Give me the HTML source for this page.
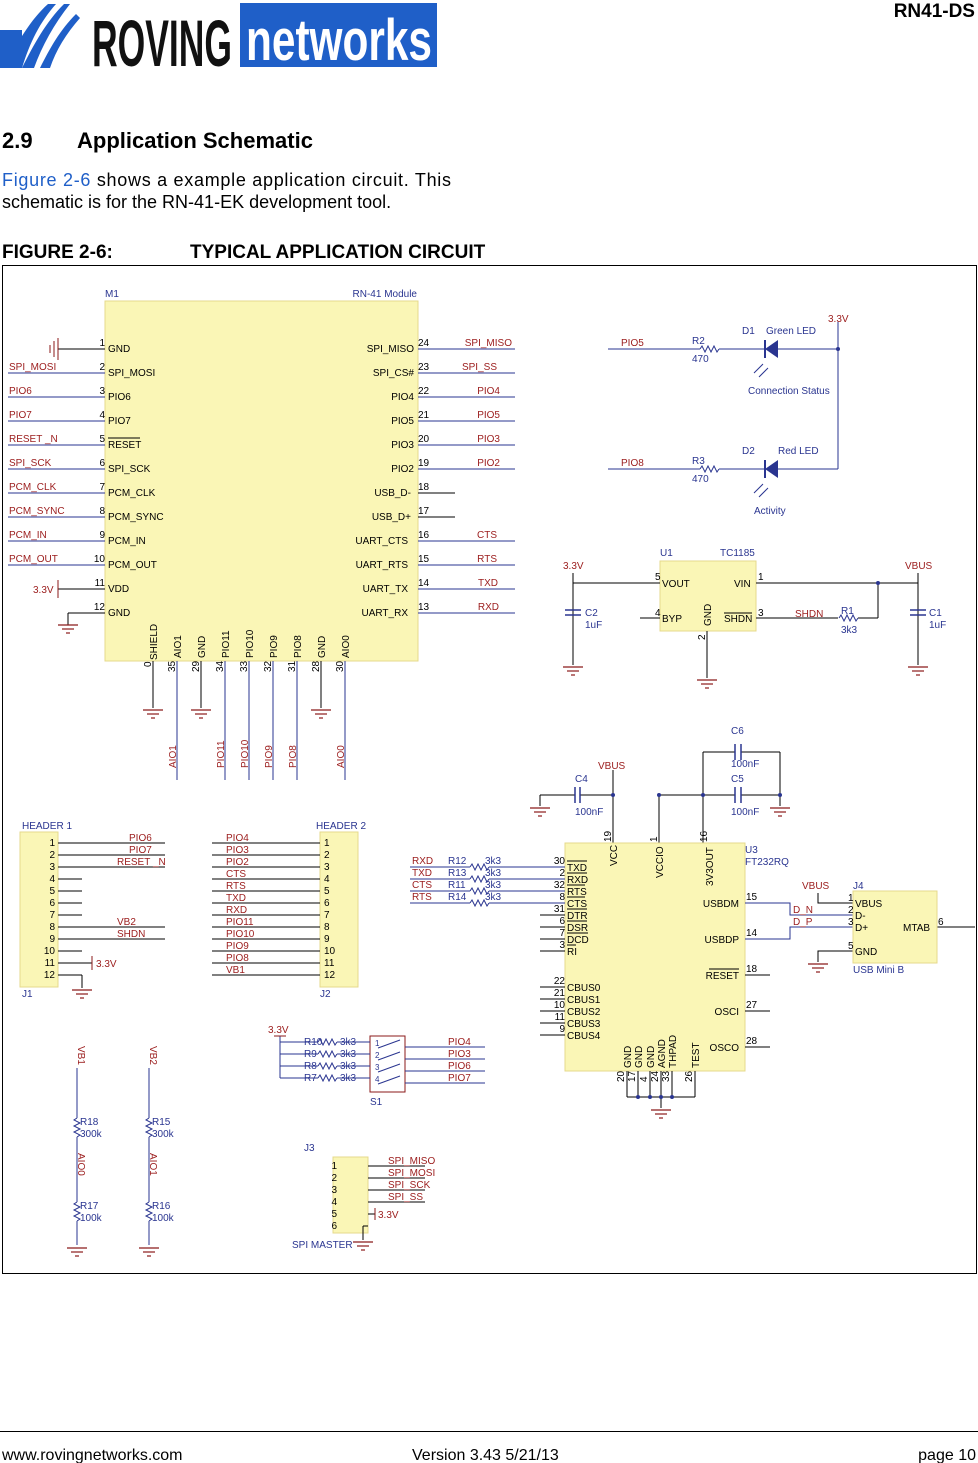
<!DOCTYPE html>
<html><head><meta charset="utf-8"><style>
body{margin:0;background:#fff;width:978px;height:1463px;overflow:hidden;font-family:"Liberation Sans",sans-serif}
.a{position:absolute;white-space:nowrap}
</style></head><body>
<div class="a" style="left:0;top:0;width:978px;height:1463px">
<svg width="978" height="1463" viewBox="0 0 978 1463" xmlns="http://www.w3.org/2000/svg" style="position:absolute;left:0;top:0;font-family:'Liberation Sans',sans-serif">
<defs>
<g id="gnd" stroke="#8b1a1a" stroke-width="1.2"><line x1="-10" y1="0" x2="10" y2="0"/><line x1="-6" y1="4" x2="6" y2="4"/><line x1="-2" y1="8" x2="2" y2="8"/></g>
<polyline id="rh" points="0,0 2,-3 5,3 8,-3 11,3 14,-3 17,3 19,0" fill="none" stroke="#2a3590" stroke-width="1"/>
<polyline id="rv" points="0,0 -3,2 3,5 -3,8 3,11 -3,14 3,17 0,19" fill="none" stroke="#2a3590" stroke-width="1"/>
</defs>
<!-- logo -->
<path d="M2,68 C20,40 30,20 48,4 L56,4 C40,22 30,42 22,68 Z" fill="#1f5fc8"/>
<path d="M22,68 C34,44 46,22 64,4 L70,4 C54,24 42,46 34,68 Z" fill="#1f5fc8"/>
<path d="M40,68 C50,48 60,30 76,14 L80,18 C66,34 56,50 50,68 Z" fill="#1f5fc8"/>
<rect x="0" y="30" width="22" height="38" fill="#1f5fc8"/>
<text x="92" y="66" font-size="66" font-weight="bold" fill="#111" textLength="140" lengthAdjust="spacingAndGlyphs">ROVING</text>
<rect x="240" y="3" width="197" height="64" fill="#1f5fc8"/>
<text x="246" y="60" font-size="58" font-weight="bold" fill="#fff" textLength="186" lengthAdjust="spacingAndGlyphs">networks</text>
<text x="975" y="17" font-size="19" font-weight="bold" text-anchor="end">RN41-DS</text>
<text x="2" y="148" font-size="22" font-weight="bold">2.9</text>
<text x="77" y="148" font-size="22" font-weight="bold">Application Schematic</text>
<text x="2" y="186" font-size="18" textLength="449" lengthAdjust="spacing"><tspan fill="#1f5fc8">Figure 2-6</tspan> shows a example application circuit. This</text>
<text x="2" y="208" font-size="18">schematic is for the RN-41-EK development tool.</text>
<text x="2" y="258" font-size="19" font-weight="bold">FIGURE 2-6:</text>
<text x="190" y="258" font-size="19" font-weight="bold">TYPICAL APPLICATION CIRCUIT</text>
<rect x="2.5" y="265.5" width="974" height="1008" fill="none" stroke="#000"/>
<line x1="0" y1="1431.5" x2="978" y2="1431.5" stroke="#000"/>
<text x="2" y="1460" font-size="16">www.rovingnetworks.com</text>
<text x="412" y="1460" font-size="16">Version 3.43 5/21/13</text>
<text x="976" y="1460" font-size="16" text-anchor="end">page 10</text>

<g font-size="10">
<!-- M1 -->
<rect x="105" y="301" width="313" height="360" fill="#faf6b6" stroke="#e6d98c"/>
<text x="105" y="297" fill="#2a3590">M1</text><text x="417" y="297" fill="#2a3590" text-anchor="end">RN-41 Module</text>
<g stroke="#2a3590" stroke-width="1">
<line x1="8" y1="373" x2="105" y2="373"/><line x1="8" y1="397" x2="105" y2="397"/><line x1="8" y1="421" x2="105" y2="421"/><line x1="8" y1="445" x2="105" y2="445"/><line x1="8" y1="469" x2="105" y2="469"/><line x1="8" y1="493" x2="105" y2="493"/><line x1="8" y1="517" x2="105" y2="517"/><line x1="8" y1="541" x2="105" y2="541"/><line x1="8" y1="565" x2="105" y2="565"/>
<line x1="418" y1="349" x2="515" y2="349"/><line x1="418" y1="373" x2="515" y2="373"/><line x1="418" y1="397" x2="515" y2="397"/><line x1="418" y1="421" x2="515" y2="421"/><line x1="418" y1="445" x2="515" y2="445"/><line x1="418" y1="469" x2="515" y2="469"/><line x1="418" y1="541" x2="515" y2="541"/><line x1="418" y1="565" x2="515" y2="565"/><line x1="418" y1="589" x2="515" y2="589"/><line x1="418" y1="613" x2="515" y2="613"/>
<line x1="177" y1="661" x2="177" y2="780"/><line x1="225" y1="661" x2="225" y2="780"/><line x1="249" y1="661" x2="249" y2="780"/><line x1="273" y1="661" x2="273" y2="780"/><line x1="297" y1="661" x2="297" y2="780"/><line x1="345" y1="661" x2="345" y2="780"/>
</g>
<g stroke="#000"><line x1="58" y1="349" x2="105" y2="349"/><line x1="58" y1="589" x2="105" y2="589"/><line x1="68" y1="613" x2="105" y2="613"/><line x1="68" y1="613" x2="68" y2="625"/><line x1="418" y1="493" x2="455" y2="493"/><line x1="418" y1="517" x2="455" y2="517"/>
<line x1="153" y1="661" x2="153" y2="708"/><line x1="201" y1="661" x2="201" y2="708"/><line x1="321" y1="661" x2="321" y2="708"/></g>
<g stroke="#8b1a1a"><line x1="58" y1="338" x2="58" y2="360"/><line x1="54" y1="341" x2="54" y2="357"/><line x1="50" y1="345" x2="50" y2="353"/><line x1="58" y1="580" x2="58" y2="598"/></g>
<use href="#gnd" x="68" y="625"/><use href="#gnd" x="153" y="710"/><use href="#gnd" x="201" y="710"/><use href="#gnd" x="321" y="710"/>
<g fill="#000">
<text x="108" y="352">GND</text><text x="108" y="376">SPI_MOSI</text><text x="108" y="400">PIO6</text><text x="108" y="424">PIO7</text><text x="108" y="448">RESET</text><text x="108" y="472">SPI_SCK</text><text x="108" y="496">PCM_CLK</text><text x="108" y="520">PCM_SYNC</text><text x="108" y="544">PCM_IN</text><text x="108" y="568">PCM_OUT</text><text x="108" y="592">VDD</text><text x="108" y="616">GND</text>
<text x="105" y="346" text-anchor="end">1</text><text x="105" y="370" text-anchor="end">2</text><text x="105" y="394" text-anchor="end">3</text><text x="105" y="418" text-anchor="end">4</text><text x="105" y="442" text-anchor="end">5</text><text x="105" y="466" text-anchor="end">6</text><text x="105" y="490" text-anchor="end">7</text><text x="105" y="514" text-anchor="end">8</text><text x="105" y="538" text-anchor="end">9</text><text x="105" y="562" text-anchor="end">10</text><text x="105" y="586" text-anchor="end">11</text><text x="105" y="610" text-anchor="end">12</text>
<g text-anchor="end"><text x="414" y="352">SPI_MISO</text><text x="414" y="376">SPI_CS#</text><text x="414" y="400">PIO4</text><text x="414" y="424">PIO5</text><text x="414" y="448">PIO3</text><text x="414" y="472">PIO2</text><text x="411" y="496">USB_D-</text><text x="411" y="520">USB_D+</text><text x="408" y="544">UART_CTS</text><text x="408" y="568">UART_RTS</text><text x="408" y="592">UART_TX</text><text x="408" y="616">UART_RX</text></g>
<text x="418" y="346">24</text><text x="418" y="370">23</text><text x="418" y="394">22</text><text x="418" y="418">21</text><text x="418" y="442">20</text><text x="418" y="466">19</text><text x="418" y="490">18</text><text x="418" y="514">17</text><text x="418" y="538">16</text><text x="418" y="562">15</text><text x="418" y="586">14</text><text x="418" y="610">13</text>
</g>
<line x1="108" y1="438" x2="140" y2="438" stroke="#000"/>
<g fill="#000">
<text transform="translate(157,660) rotate(-90)">SHIELD</text><text transform="translate(181,658) rotate(-90)">AIO1</text><text transform="translate(205,658) rotate(-90)">GND</text><text transform="translate(229,658) rotate(-90)">PIO11</text><text transform="translate(253,658) rotate(-90)">PIO10</text><text transform="translate(277,658) rotate(-90)">PIO9</text><text transform="translate(301,658) rotate(-90)">PIO8</text><text transform="translate(325,658) rotate(-90)">GND</text><text transform="translate(349,658) rotate(-90)">AIO0</text>
<text transform="translate(151,667) rotate(-90)">0</text><text transform="translate(175,672) rotate(-90)">35</text><text transform="translate(199,672) rotate(-90)">29</text><text transform="translate(223,672) rotate(-90)">34</text><text transform="translate(247,672) rotate(-90)">33</text><text transform="translate(271,672) rotate(-90)">32</text><text transform="translate(295,672) rotate(-90)">31</text><text transform="translate(319,672) rotate(-90)">28</text><text transform="translate(343,672) rotate(-90)">30</text>
</g>
<g fill="#9b1c1c">
<text x="9" y="370">SPI_MOSI</text><text x="9" y="394">PIO6</text><text x="9" y="418">PIO7</text><text x="9" y="442">RESET _N</text><text x="9" y="466">SPI_SCK</text><text x="9" y="490">PCM_CLK</text><text x="9" y="514">PCM_SYNC</text><text x="9" y="538">PCM_IN</text><text x="9" y="562">PCM_OUT</text><text x="33" y="593">3.3V</text>
<g text-anchor="end"><text x="512" y="346">SPI_MISO</text><text x="497" y="370">SPI_SS</text><text x="500" y="394">PIO4</text><text x="500" y="418">PIO5</text><text x="500" y="442">PIO3</text><text x="500" y="466">PIO2</text><text x="497" y="538">CTS</text><text x="497" y="562">RTS</text><text x="498" y="586">TXD</text><text x="499" y="610">RXD</text></g>
<text transform="translate(176,768) rotate(-90)">AIO1</text><text transform="translate(224,768) rotate(-90)">PIO11</text><text transform="translate(248,768) rotate(-90)">PIO10</text><text transform="translate(272,768) rotate(-90)">PIO9</text><text transform="translate(296,768) rotate(-90)">PIO8</text><text transform="translate(344,768) rotate(-90)">AIO0</text>
</g>

<!-- LEDs -->
<g stroke="#2a3590" fill="none"><line x1="608" y1="349" x2="700" y2="349"/><line x1="719" y1="349" x2="838" y2="349"/><line x1="608" y1="469" x2="700" y2="469"/><line x1="719" y1="469" x2="838" y2="469"/><line x1="838" y1="322" x2="838" y2="469"/></g>
<use href="#rh" x="700" y="349"/><use href="#rh" x="700" y="469"/>
<circle cx="838" cy="349" r="2" fill="#2a3590"/>
<polygon points="765,349 778,340 778,358" fill="#2a3590"/><line x1="765" y1="340" x2="765" y2="358" stroke="#2a3590" stroke-width="2"/>
<polygon points="765,469 778,460 778,478" fill="#2a3590"/><line x1="765" y1="460" x2="765" y2="478" stroke="#2a3590" stroke-width="2"/>
<g stroke="#2a3590"><line x1="763" y1="364" x2="754" y2="373"/><line x1="768" y1="368" x2="759" y2="377"/><line x1="763" y1="484" x2="754" y2="493"/><line x1="768" y1="488" x2="759" y2="497"/></g>
<g fill="#2a3590"><text x="692" y="344">R2</text><text x="692" y="362">470</text><text x="692" y="464">R3</text><text x="692" y="482">470</text><text x="742" y="334">D1</text><text x="766" y="334">Green LED</text><text x="748" y="394">Connection Status</text><text x="742" y="454">D2</text><text x="778" y="454">Red LED</text><text x="754" y="514">Activity</text></g>
<g fill="#9b1c1c"><text x="621" y="346">PIO5</text><text x="621" y="466">PIO8</text><text x="828" y="322">3.3V</text></g>

<!-- U1 -->
<rect x="660" y="561" width="96" height="70" fill="#faf6b6" stroke="#e6d98c"/>
<g stroke="#000"><line x1="573" y1="583" x2="660" y2="583"/><line x1="573" y1="573" x2="573" y2="665"/><line x1="640" y1="618" x2="660" y2="618"/><line x1="756" y1="583" x2="918" y2="583"/><line x1="918" y1="573" x2="918" y2="665"/><line x1="707" y1="631" x2="707" y2="678"/><line x1="756" y1="618" x2="838" y2="618"/><line x1="858" y1="618" x2="878" y2="618"/><line x1="878" y1="583" x2="878" y2="618"/></g>
<g stroke="#2a3590" stroke-width="1.5"><line x1="565" y1="610" x2="581" y2="610"/><line x1="565" y1="615" x2="581" y2="615"/><line x1="910" y1="610" x2="926" y2="610"/><line x1="910" y1="615" x2="926" y2="615"/></g>
<use href="#rh" x="839" y="618"/>
<circle cx="878" cy="583" r="2" fill="#2a3590"/>
<use href="#gnd" x="573" y="667"/><use href="#gnd" x="918" y="667"/><use href="#gnd" x="707" y="680"/>
<g fill="#000"><text x="662" y="587">VOUT</text><text x="662" y="622">BYP</text><text x="734" y="587">VIN</text><text x="724" y="622">SHDN</text><text x="655" y="580">5</text><text x="655" y="616">4</text><text x="758" y="580">1</text><text x="758" y="616">3</text><text transform="translate(711,626) rotate(-90)">GND</text><text transform="translate(705,640) rotate(-90)">2</text></g>
<line x1="724" y1="613" x2="752" y2="613" stroke="#000"/>
<g fill="#2a3590"><text x="660" y="556">U1</text><text x="720" y="556">TC1185</text><text x="585" y="616">C2</text><text x="585" y="628">1uF</text><text x="929" y="616">C1</text><text x="929" y="628">1uF</text><text x="841" y="614">R1</text><text x="841" y="633">3k3</text></g>
<g fill="#9b1c1c"><text x="563" y="569">3.3V</text><text x="905" y="569">VBUS</text><text x="795" y="617">SHDN</text></g>

<!-- caps C4-C6 -->
<g stroke="#000"><line x1="540" y1="795" x2="575" y2="795"/><line x1="580" y1="795" x2="613" y2="795"/><line x1="540" y1="795" x2="540" y2="806"/><line x1="613" y1="770" x2="613" y2="843"/><line x1="659" y1="795" x2="659" y2="843"/><line x1="703" y1="752" x2="703" y2="843"/><line x1="659" y1="795" x2="735" y2="795"/><line x1="741" y1="795" x2="780" y2="795"/><line x1="703" y1="752" x2="735" y2="752"/><line x1="741" y1="752" x2="780" y2="752"/><line x1="780" y1="752" x2="780" y2="806"/></g>
<g stroke="#2a3590" stroke-width="1.5"><line x1="575" y1="787" x2="575" y2="803"/><line x1="580" y1="787" x2="580" y2="803"/><line x1="735" y1="744" x2="735" y2="760"/><line x1="741" y1="744" x2="741" y2="760"/><line x1="735" y1="787" x2="735" y2="803"/><line x1="741" y1="787" x2="741" y2="803"/></g>
<circle cx="613" cy="795" r="2" fill="#2a3590"/><circle cx="659" cy="795" r="2" fill="#2a3590"/><circle cx="703" cy="795" r="2" fill="#2a3590"/><circle cx="780" cy="795" r="2" fill="#2a3590"/>
<use href="#gnd" x="540" y="808"/><use href="#gnd" x="780" y="808"/>
<g fill="#2a3590"><text x="575" y="782">C4</text><text x="575" y="815">100nF</text><text x="731" y="734">C6</text><text x="731" y="767">100nF</text><text x="731" y="782">C5</text><text x="731" y="815">100nF</text></g>
<text x="598" y="769" fill="#9b1c1c">VBUS</text>

<!-- U3 -->
<rect x="565" y="843" width="180" height="228" fill="#faf6b6" stroke="#e6d98c"/>
<g stroke="#2a3590"><line x1="410" y1="867" x2="470" y2="867"/><line x1="489" y1="867" x2="565" y2="867"/><line x1="410" y1="879" x2="470" y2="879"/><line x1="489" y1="879" x2="565" y2="879"/><line x1="410" y1="891" x2="470" y2="891"/><line x1="489" y1="891" x2="565" y2="891"/><line x1="410" y1="903" x2="470" y2="903"/><line x1="489" y1="903" x2="565" y2="903"/>
<polyline points="745,903 790,903 790,915 853,915" fill="none"/><polyline points="745,939 790,939 790,927 853,927" fill="none"/></g>
<use href="#rh" x="470" y="867"/><use href="#rh" x="470" y="879"/><use href="#rh" x="470" y="891"/><use href="#rh" x="470" y="903"/>
<g stroke="#000"><line x1="540" y1="915" x2="565" y2="915"/><line x1="540" y1="927" x2="565" y2="927"/><line x1="540" y1="939" x2="565" y2="939"/><line x1="540" y1="951" x2="565" y2="951"/><line x1="540" y1="987" x2="565" y2="987"/><line x1="540" y1="999" x2="565" y2="999"/><line x1="540" y1="1011" x2="565" y2="1011"/><line x1="540" y1="1023" x2="565" y2="1023"/><line x1="540" y1="1035" x2="565" y2="1035"/>
<line x1="745" y1="975" x2="770" y2="975"/><line x1="745" y1="1011" x2="770" y2="1011"/><line x1="745" y1="1047" x2="770" y2="1047"/>
<line x1="627" y1="1071" x2="627" y2="1097"/><line x1="638" y1="1071" x2="638" y2="1097"/><line x1="650" y1="1071" x2="650" y2="1097"/><line x1="661" y1="1071" x2="661" y2="1108"/><line x1="672" y1="1071" x2="672" y2="1097"/><line x1="695" y1="1071" x2="695" y2="1097"/><line x1="627" y1="1097" x2="695" y2="1097"/>
<polyline points="853,903 818,903 818,893" fill="none"/><polyline points="853,951 818,951 818,962" fill="none"/><line x1="937" y1="927" x2="975" y2="927"/></g>
<g fill="#2a3590"><circle cx="638" cy="1097" r="2"/><circle cx="650" cy="1097" r="2"/><circle cx="661" cy="1097" r="2"/><circle cx="672" cy="1097" r="2"/></g>
<use href="#gnd" x="661" y="1110"/><use href="#gnd" x="818" y="964"/>
<g fill="#000"><text x="567" y="871">TXD</text><text x="567" y="883">RXD</text><text x="567" y="895">RTS</text><text x="567" y="907">CTS</text><text x="567" y="919">DTR</text><text x="567" y="931">DSR</text><text x="567" y="943">DCD</text><text x="567" y="955">RI</text><text x="567" y="991">CBUS0</text><text x="567" y="1003">CBUS1</text><text x="567" y="1015">CBUS2</text><text x="567" y="1027">CBUS3</text><text x="567" y="1039">CBUS4</text>
<g text-anchor="end"><text x="565" y="864">30</text><text x="565" y="876">2</text><text x="565" y="888">32</text><text x="565" y="900">8</text><text x="565" y="912">31</text><text x="565" y="924">6</text><text x="565" y="936">7</text><text x="565" y="948">3</text><text x="565" y="984">22</text><text x="565" y="996">21</text><text x="565" y="1008">10</text><text x="565" y="1020">11</text><text x="565" y="1032">9</text>
<text x="739" y="907">USBDM</text><text x="739" y="943">USBDP</text><text x="739" y="979">RESET</text><text x="739" y="1015">OSCI</text><text x="739" y="1051">OSCO</text></g>
<text x="746" y="900">15</text><text x="746" y="936">14</text><text x="746" y="972">18</text><text x="746" y="1008">27</text><text x="746" y="1044">28</text>
<text transform="translate(617,866) rotate(-90)">VCC</text><text transform="translate(663,878) rotate(-90)">VCCIO</text><text transform="translate(713,886) rotate(-90)">3V3OUT</text>
<text transform="translate(611,842) rotate(-90)">19</text><text transform="translate(657,842) rotate(-90)">1</text><text transform="translate(707,842) rotate(-90)">16</text>
<text transform="translate(631,1068) rotate(-90)">GND</text><text transform="translate(642,1068) rotate(-90)">GND</text><text transform="translate(654,1068) rotate(-90)">GND</text><text transform="translate(665,1068) rotate(-90)">AGND</text><text transform="translate(676,1068) rotate(-90)">THPAD</text><text transform="translate(699,1068) rotate(-90)">TEST</text>
<text transform="translate(624,1082) rotate(-90)">20</text><text transform="translate(635,1082) rotate(-90)">17</text><text transform="translate(647,1082) rotate(-90)">4</text><text transform="translate(658,1082) rotate(-90)">24</text><text transform="translate(669,1082) rotate(-90)">33</text><text transform="translate(692,1082) rotate(-90)">26</text>
</g>
<g stroke="#000"><line x1="567" y1="861" x2="587" y2="861"/><line x1="567" y1="873" x2="587" y2="873"/><line x1="567" y1="885" x2="585" y2="885"/><line x1="567" y1="897" x2="585" y2="897"/><line x1="567" y1="909" x2="587" y2="909"/><line x1="567" y1="921" x2="587" y2="921"/><line x1="567" y1="933" x2="588" y2="933"/><line x1="567" y1="945" x2="576" y2="945"/><line x1="709" y1="969" x2="739" y2="969"/></g>
<g fill="#9b1c1c"><text x="412" y="864">RXD</text><text x="412" y="876">TXD</text><text x="412" y="888">CTS</text><text x="412" y="900">RTS</text><text x="802" y="889">VBUS</text><text x="793" y="913">D_N</text><text x="793" y="925">D_P</text></g>
<g fill="#2a3590"><text x="448" y="864">R12</text><text x="448" y="876">R13</text><text x="448" y="888">R11</text><text x="448" y="900">R14</text><text x="485" y="864">3k3</text><text x="485" y="876">3k3</text><text x="485" y="888">3k3</text><text x="485" y="900">3k3</text><text x="745" y="853">U3</text><text x="745" y="865">FT232RQ</text><text x="853" y="889">J4</text><text x="853" y="973">USB Mini B</text></g>
<!-- J4 -->
<rect x="853" y="891" width="84" height="72" fill="#faf6b6" stroke="#e6d98c"/>
<g fill="#000"><text x="855" y="907">VBUS</text><text x="855" y="919">D-</text><text x="855" y="931">D+</text><text x="855" y="955">GND</text><text x="903" y="931">MTAB</text><text x="848" y="901">1</text><text x="848" y="913">2</text><text x="848" y="925">3</text><text x="848" y="949">5</text><text x="938" y="925">6</text></g>

<!-- HEADER 1 -->
<rect x="20" y="832" width="38" height="155" fill="#faf6b6" stroke="#e6d98c"/>
<text x="22" y="829" fill="#2a3590">HEADER 1</text><text x="22" y="997" fill="#2a3590">J1</text>
<g stroke="#000"><line x1="58" y1="843" x2="165" y2="843"/><line x1="58" y1="855" x2="165" y2="855"/><line x1="58" y1="867" x2="165" y2="867"/><line x1="58" y1="879" x2="82" y2="879"/><line x1="58" y1="891" x2="82" y2="891"/><line x1="58" y1="903" x2="82" y2="903"/><line x1="58" y1="915" x2="82" y2="915"/><line x1="58" y1="927" x2="165" y2="927"/><line x1="58" y1="939" x2="165" y2="939"/><line x1="58" y1="951" x2="82" y2="951"/><line x1="58" y1="963" x2="92" y2="963"/><line x1="58" y1="975" x2="82" y2="975"/><line x1="82" y1="975" x2="82" y2="988"/></g>
<line x1="92" y1="956" x2="92" y2="970" stroke="#8b1a1a"/>
<use href="#gnd" x="82" y="990"/>
<g fill="#000" text-anchor="end"><text x="55" y="846">1</text><text x="55" y="858">2</text><text x="55" y="870">3</text><text x="55" y="882">4</text><text x="55" y="894">5</text><text x="55" y="906">6</text><text x="55" y="918">7</text><text x="55" y="930">8</text><text x="55" y="942">9</text><text x="55" y="954">10</text><text x="55" y="966">11</text><text x="55" y="978">12</text></g>
<g fill="#9b1c1c"><text x="129" y="841">PIO6</text><text x="129" y="853">PIO7</text><text x="117" y="865">RESET _N</text><text x="117" y="925">VB2</text><text x="117" y="937">SHDN</text><text x="96" y="967">3.3V</text></g>
<!-- HEADER 2 -->
<rect x="320" y="832" width="38" height="155" fill="#faf6b6" stroke="#e6d98c"/>
<text x="316" y="829" fill="#2a3590">HEADER 2</text><text x="320" y="997" fill="#2a3590">J2</text>
<g stroke="#000"><line x1="212" y1="843" x2="320" y2="843"/><line x1="212" y1="855" x2="320" y2="855"/><line x1="212" y1="867" x2="320" y2="867"/><line x1="212" y1="879" x2="320" y2="879"/><line x1="212" y1="891" x2="320" y2="891"/><line x1="212" y1="903" x2="320" y2="903"/><line x1="212" y1="915" x2="320" y2="915"/><line x1="212" y1="927" x2="320" y2="927"/><line x1="212" y1="939" x2="320" y2="939"/><line x1="212" y1="951" x2="320" y2="951"/><line x1="212" y1="963" x2="320" y2="963"/><line x1="212" y1="975" x2="320" y2="975"/></g>
<g fill="#000"><text x="324" y="846">1</text><text x="324" y="858">2</text><text x="324" y="870">3</text><text x="324" y="882">4</text><text x="324" y="894">5</text><text x="324" y="906">6</text><text x="324" y="918">7</text><text x="324" y="930">8</text><text x="324" y="942">9</text><text x="324" y="954">10</text><text x="324" y="966">11</text><text x="324" y="978">12</text></g>
<g fill="#9b1c1c"><text x="226" y="841">PIO4</text><text x="226" y="853">PIO3</text><text x="226" y="865">PIO2</text><text x="226" y="877">CTS</text><text x="226" y="889">RTS</text><text x="226" y="901">TXD</text><text x="226" y="913">RXD</text><text x="226" y="925">PIO11</text><text x="226" y="937">PIO10</text><text x="226" y="949">PIO9</text><text x="226" y="961">PIO8</text><text x="226" y="973">VB1</text></g>

<!-- S1 -->
<rect x="370" y="1036" width="35" height="56" fill="#fff" stroke="#8b1a1a"/>
<g stroke="#2a3590"><line x1="280" y1="1036" x2="280" y2="1078"/><line x1="280" y1="1042" x2="318" y2="1042"/><line x1="337" y1="1042" x2="370" y2="1042"/><line x1="280" y1="1054" x2="318" y2="1054"/><line x1="337" y1="1054" x2="370" y2="1054"/><line x1="280" y1="1066" x2="318" y2="1066"/><line x1="337" y1="1066" x2="370" y2="1066"/><line x1="280" y1="1078" x2="318" y2="1078"/><line x1="337" y1="1078" x2="370" y2="1078"/>
<line x1="405" y1="1047" x2="485" y2="1047"/><line x1="405" y1="1059" x2="485" y2="1059"/><line x1="405" y1="1071" x2="485" y2="1071"/><line x1="405" y1="1083" x2="485" y2="1083"/>
<line x1="378" y1="1048" x2="400" y2="1040"/><line x1="378" y1="1060" x2="400" y2="1052"/><line x1="378" y1="1072" x2="400" y2="1064"/><line x1="378" y1="1084" x2="400" y2="1076"/></g>
<line x1="274" y1="1036" x2="286" y2="1036" stroke="#8b1a1a"/>
<use href="#rh" x="318" y="1042"/><use href="#rh" x="318" y="1054"/><use href="#rh" x="318" y="1066"/><use href="#rh" x="318" y="1078"/>
<g fill="#2a3590"><text x="304" y="1045">R10</text><text x="304" y="1057">R9</text><text x="304" y="1069">R8</text><text x="304" y="1081">R7</text><text x="340" y="1045">3k3</text><text x="340" y="1057">3k3</text><text x="340" y="1069">3k3</text><text x="340" y="1081">3k3</text><text x="370" y="1105">S1</text><text x="375" y="1046" font-size="8">1</text><text x="375" y="1058" font-size="8">2</text><text x="375" y="1070" font-size="8">3</text><text x="375" y="1082" font-size="8">4</text></g>
<g fill="#9b1c1c"><text x="268" y="1033">3.3V</text><text x="448" y="1045">PIO4</text><text x="448" y="1057">PIO3</text><text x="448" y="1069">PIO6</text><text x="448" y="1081">PIO7</text></g>

<!-- VB dividers -->
<g stroke="#2a3590"><line x1="77" y1="1068" x2="77" y2="1118"/><line x1="77" y1="1137" x2="77" y2="1202"/><line x1="77" y1="1221" x2="77" y2="1245"/><line x1="149" y1="1068" x2="149" y2="1118"/><line x1="149" y1="1137" x2="149" y2="1202"/><line x1="149" y1="1221" x2="149" y2="1245"/></g>
<use href="#rv" x="77" y="1118"/><use href="#rv" x="77" y="1202"/><use href="#rv" x="149" y="1118"/><use href="#rv" x="149" y="1202"/>
<use href="#gnd" x="77" y="1248"/><use href="#gnd" x="149" y="1248"/>
<g fill="#9b1c1c"><text transform="translate(78,1046) rotate(90)">VB1</text><text transform="translate(150,1046) rotate(90)">VB2</text><text transform="translate(78,1153) rotate(90)">AIO0</text><text transform="translate(150,1153) rotate(90)">AIO1</text></g>
<g fill="#2a3590"><text x="80" y="1125">R18</text><text x="80" y="1137">300k</text><text x="80" y="1209">R17</text><text x="80" y="1221">100k</text><text x="152" y="1125">R15</text><text x="152" y="1137">300k</text><text x="152" y="1209">R16</text><text x="152" y="1221">100k</text></g>

<!-- J3 -->
<rect x="333" y="1157" width="35" height="76" fill="#faf6b6" stroke="#e6d98c"/>
<g stroke="#000"><line x1="368" y1="1166" x2="425" y2="1166"/><line x1="368" y1="1178" x2="425" y2="1178"/><line x1="368" y1="1190" x2="425" y2="1190"/><line x1="368" y1="1202" x2="425" y2="1202"/><line x1="368" y1="1214" x2="375" y2="1214"/><line x1="368" y1="1226" x2="363" y2="1226"/><line x1="363" y1="1226" x2="363" y2="1240"/></g>
<line x1="375" y1="1208" x2="375" y2="1220" stroke="#8b1a1a"/>
<use href="#gnd" x="363" y="1242"/>
<g fill="#000" text-anchor="end"><text x="337" y="1169">1</text><text x="337" y="1181">2</text><text x="337" y="1193">3</text><text x="337" y="1205">4</text><text x="337" y="1217">5</text><text x="337" y="1229">6</text></g>
<g fill="#9b1c1c"><text x="388" y="1164">SPI_MISO</text><text x="388" y="1176">SPI_MOSI</text><text x="388" y="1188">SPI_SCK</text><text x="388" y="1200">SPI_SS</text><text x="378" y="1218">3.3V</text></g>
<g fill="#2a3590"><text x="304" y="1151">J3</text><text x="292" y="1248">SPI MASTER</text></g>
</g>
</svg>
</div>
</body></html>
